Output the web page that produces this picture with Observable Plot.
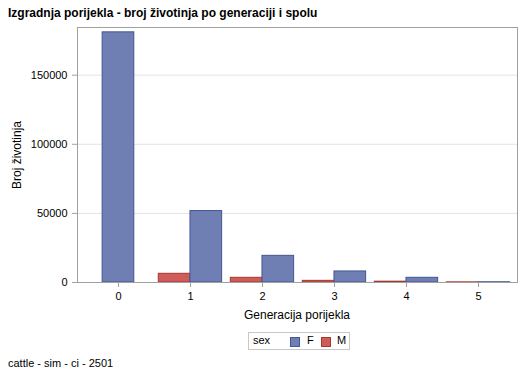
<!DOCTYPE html>
<html>
<head>
<meta charset="utf-8">
<script src="https://cdn.jsdelivr.net/npm/d3@7"></script>
<script src="https://cdn.jsdelivr.net/npm/@observablehq/plot@0.6"></script>
<style>
  body { margin: 0; background: #fff; font-family: "Liberation Sans", Arial, sans-serif; }
  #wrap { position: relative; width: 529px; height: 378px; overflow: hidden; }
  #title { position: absolute; left: 8px; top: 6px; font-size: 12px; font-weight: bold; color: #000; white-space: nowrap; }
  #chart { position: absolute; left: 0; top: 0; }
  #ylab { position: absolute; left: 17px; top: 155px; font-size: 12px; transform: translate(-50%, -50%) rotate(-90deg); white-space: nowrap; }
  #xlab { position: absolute; left: 297px; top: 308px; font-size: 12px; transform: translateX(-50%); white-space: nowrap; }
  #legend { position: absolute; left: 248px; top: 332px; width: 100px; height: 16px; border: 1px solid #c8c8c8; font-size: 11px; }
  #legend span { position: absolute; top: 1px; }
  #legend .sw { position: absolute; top: 4px; width: 8px; height: 8px; border: 1px solid; }
  #foot { position: absolute; left: 8px; top: 357px; font-size: 11px; white-space: nowrap; }
</style>
</head>
<body>
<div id="wrap">
  <div id="chart"></div>
  <div id="title">Izgradnja porijekla - broj životinja po generaciji i spolu</div>
  <div id="ylab">Broj životinja</div>
  <div id="xlab">Generacija porijekla</div>
  <div id="legend">
    <span style="left:4px">sex</span>
    <div class="sw" style="left:41px;background:#6F7EB3;border-color:#445694"></div>
    <span style="left:58px">F</span>
    <div class="sw" style="left:72px;background:#D05B5B;border-color:#A23A2E"></div>
    <span style="left:88px">M</span>
  </div>
  <div id="foot">cattle - sim - ci - 2501</div>
</div>
<script>
const generations = [0, 1, 2, 3, 4, 5];
const sexes = ["M", "F"];
const female = [181000, 51700, 19300, 8000, 3400, 180];
const male = [null, 6300, 3400, 1200, 600, 120];
const yTicks = [0, 50000, 100000, 150000];
const fillColors = { F: "#6F7EB3", M: "#D05B5B" };
const strokeColors = { F: "#445694", M: "#A23A2E" };

// build clustered bars: present groups are centred around each generation tick
const barWidth = 0.44;
const bars = [];
generations.forEach((g, i) => {
  const vals = { M: male[i], F: female[i] };
  const present = sexes.filter(s => vals[s] != null);
  present.forEach((s, j) => {
    const off = (j - (present.length - 1) / 2) * barWidth;
    bars.push({ gen: g, sex: s, value: vals[s], x1: g + off - barWidth / 2, x2: g + off + barWidth / 2 });
  });
});

const chart = Plot.plot({
  width: 529,
  height: 330,
  marginLeft: 77,
  marginRight: 12,
  marginTop: 27,
  marginBottom: 48,
  style: { fontFamily: "'Liberation Sans', Arial, sans-serif", fontSize: "11px", color: "#000", background: "transparent" },
  x: { domain: [-0.569, 5.542], label: null },
  y: { domain: [0, 184500], label: null },
  marks: [
    Plot.gridY(yTicks.filter(d => d > 0), { stroke: "#e4e4e4", strokeOpacity: 1 }),
    Plot.rect(bars, {
      x1: "x1", x2: "x2", y1: 0, y2: "value",
      fill: d => fillColors[d.sex],
      stroke: d => strokeColors[d.sex],
      strokeWidth: 1
    }),
    Plot.frame({ stroke: "#a0a0a0" }),
    Plot.axisX({ ticks: generations, tickFormat: d => String(d), tickSize: 5, tickPadding: 5, stroke: "#a0a0a0", fill: "#000", label: null }),
    Plot.axisY({ ticks: yTicks, tickFormat: d => String(d), tickSize: 5, tickPadding: 5, stroke: "#a0a0a0", fill: "#000", label: null })
  ]
});
document.getElementById("chart").appendChild(chart);
</script>
</body>
</html>
